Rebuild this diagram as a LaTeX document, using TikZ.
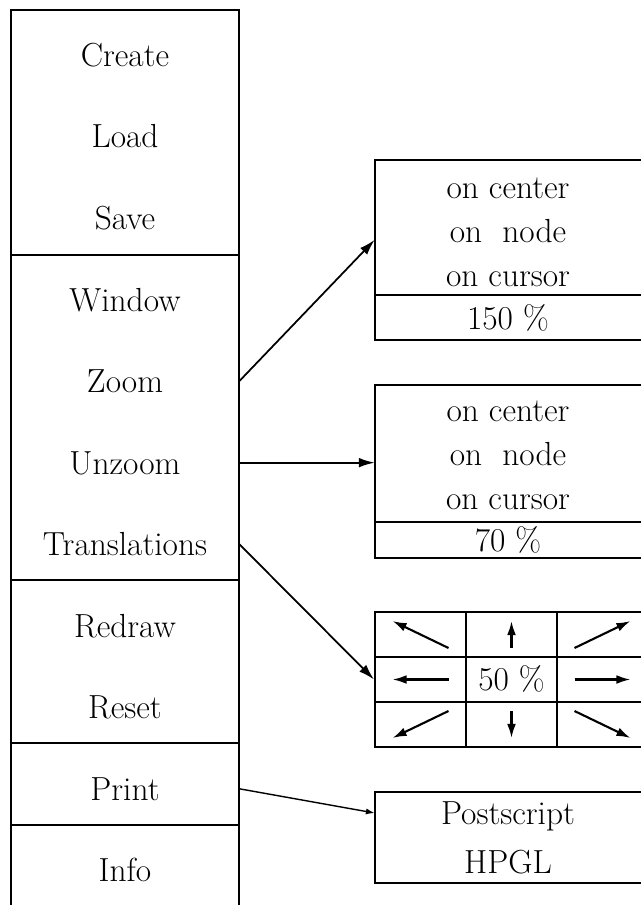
\documentclass[tikz,border=0pt]{standalone}
\usepackage{tikz}
\usetikzlibrary{arrows.meta,positioning,calc}

\begin{document}
\begin{tikzpicture}[
	x=0.02cm, y=-0.02cm,
	txt/.style={
		inner sep=0pt,
		text height=13pt,
		text depth=0pt,
		font=\fontsize{19}{23}\selectfont},
	menuitem/.style={
		txt,
		minimum width=4.56cm},
	optline/.style={
		txt,
		minimum width=5.32cm},
	cell/.style={
		draw=black,
		line width=1.1pt,
		inner sep=0pt,
		minimum width=1.82cm,
		minimum height=0.9cm},
	boxline/.style={line width=1.1pt},
	myarrow/.style={line width=1pt,-{Latex[length=9pt,width=5.5pt]}},
	thinarrow/.style={line width=0.8pt,-{Latex[length=5pt,width=3.5pt]}},
	gridarrow/.style={line width=1.2pt,-{Latex[length=8pt,width=5pt]}},
	node distance=1.16cm
	]
	\clip (0,0) rectangle (641,905);

	% menu column
	\node[menuitem] (create) at (125,55) {Create};
	\node[menuitem,below=of create] (load) {Load};
	\node[menuitem,below=of load] (save) {Save};
	\node[menuitem,below=of save] (window) {Window};
	\node[menuitem,below=of window] (zoom) {Zoom};
	\node[menuitem,below=of zoom] (unzoom) {Unzoom};
	\node[menuitem,below=of unzoom] (trans) {Translations};
	\node[menuitem,below=of trans] (redraw) {Redraw};
	\node[menuitem,below=of redraw] (reset) {Reset};
	\node[menuitem,below=of reset] (print) {Print};
	\node[menuitem,below=of print] (info) {Info};

	\draw[boxline] (11,905) -- (11,10) -- (239,10) -- (239,905);
	\foreach \y in {255,580,743,825}
		\draw[boxline] (11,\y) -- (239,\y);

	% zoom options
	\node[optline] (zc1) at (508,187) {on center};
	\node[optline,below=0.41cm of zc1] (zn1) {on~ node};
	\node[optline,below=0.41cm of zn1] (zu1) {on cursor};
	\node[optline] (zp1) at (508,318) {150 \%};
	\draw[boxline] (660,160) -- (375,160) -- (375,340) -- (660,340);
	\draw[boxline] (375,295) -- (660,295);

	% unzoom options
	\node[optline] (zc2) at (508,410) {on center};
	\node[optline,below=0.41cm of zc2] (zn2) {on~ node};
	\node[optline,below=0.41cm of zn2] (zu2) {on cursor};
	\node[optline] (zp2) at (508,540) {70 \%};
	\draw[boxline] (660,385) -- (375,385) -- (375,558) -- (660,558);
	\draw[boxline] (375,522) -- (660,522);

	% translation grid
	\foreach \r in {1,2,3}
		\foreach \c in {1,2,3}
			\node[cell] (g\r\c) at ({375+91*(\c-0.5)},{612+45*(\r-0.5)}) {};
	\node[txt] (half) at (g22) {50 \%};
	\foreach \c/\r/\dx/\dy in {% column/row/x direction/y direction
		1/1/-1/-1, 2/1/0/-1, 3/1/1/-1,
		1/2/-1/0, 3/2/1/0,
		1/3/-1/1, 2/3/0/1, 3/3/1/1}
		\draw[gridarrow] ([shift={({-28*(\dx)},{-13.5*(\dy)})}]g\r\c.center)
			-- ([shift={({28*(\dx)},{13.5*(\dy)})}]g\r\c.center);

	% print options
	\node[optline] (ps) at (508,813) {Postscript};
	\node[optline,below=0.52cm of ps] (hpgl) {HPGL};
	\draw[boxline] (660,792) -- (375,792) -- (375,883) -- (660,883);

	\foreach \i/\j/\s in {% start node/end node/style
		trans/g21/myarrow,
		print/ps/thinarrow}
		\draw[\s] (\i.east) -- (\j.west);

	% zoom arrow hits the box a little under "on node"
	\draw[myarrow] (zoom.east) -- ($(zn1.west)!0.2!(zu1.west)$);
	\draw[myarrow] (unzoom.east) -- (unzoom.east -| zn2.west);
\end{tikzpicture}
\end{document}
